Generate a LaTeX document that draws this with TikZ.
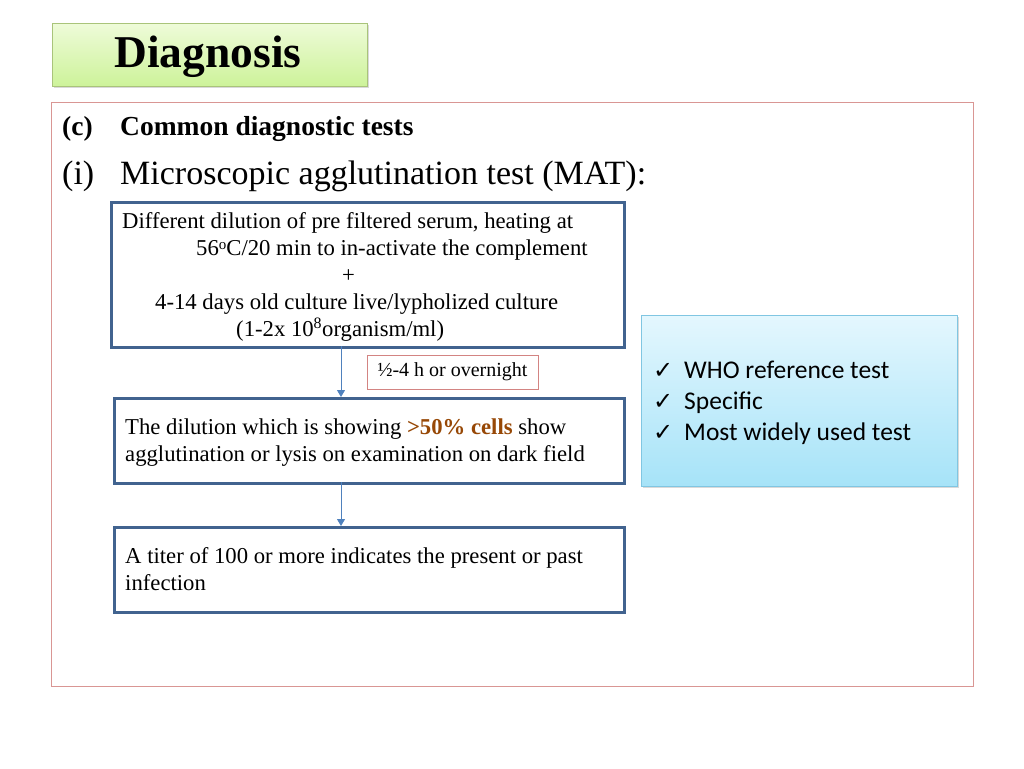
\documentclass[tikz,border=0pt]{standalone}
\usepackage{fontspec}
\setmainfont{Liberation Serif}
\newfontfamily\calib{Carlito}
\newfontfamily\djv{DejaVu Sans}
\usetikzlibrary{arrows.meta,shadows}
\definecolor{boxblue}{HTML}{41638F}
\definecolor{arrowblue}{HTML}{4F81BD}
\definecolor{framered}{HTML}{D99694}
\definecolor{labred}{HTML}{C0504D}
\definecolor{brownhl}{HTML}{974806}
\definecolor{greentop}{HTML}{EEFBD9}
\definecolor{greenbot}{HTML}{CDF39A}
\definecolor{greenedge}{HTML}{A9C47A}
\definecolor{cyantop}{HTML}{E4F7FE}
\definecolor{cyanbot}{HTML}{A6E3F8}
\definecolor{cyanedge}{HTML}{80C6E2}
\tikzset{
  flowbox/.style={draw=boxblue, line width=2.6pt},
  txt/.style={anchor=base west, inner sep=0pt, font=\fontsize{22.7}{26}\selectfont},
  flowarrow/.style={draw=arrowblue, line width=1pt, -{Triangle[length=7pt,width=8pt]}},
  chk/.style={anchor=base west, inner sep=0pt, font=\calib\fontsize{25.5}{28}\selectfont},
  chkmark/.style={anchor=base west, inner sep=0pt, font=\djv\fontsize{24}{26}\selectfont}
}
\begin{document}
\begin{tikzpicture}[x=1pt,y=-1pt]
\useasboundingbox (0,0) rectangle (1024,768);
% title
\node[draw=greenedge, line width=0.8pt, top color=greentop, bottom color=greenbot,
  drop shadow={shadow xshift=2pt, shadow yshift=-2pt, opacity=0.3},
  minimum width=315pt, minimum height=63pt, inner sep=0pt, anchor=north west]
  (title) at (52,23) {};
\node[font=\bfseries\fontsize{45.5}{50}\selectfont, inner sep=0pt] (titletxt) at (208,57) {Diagnosis};
% outer frame
\node[draw=framered, line width=0.8pt, minimum width=922pt, minimum height=584pt,
  inner sep=0pt, anchor=north west] (frame) at (51,102) {};
% headings
\node[anchor=base west, inner sep=0pt, font=\bfseries\fontsize{27.5}{30}\selectfont] (c) at (62,135) {(c)};
\node[anchor=base west, inner sep=0pt, font=\bfseries\fontsize{27.5}{30}\selectfont] (cmn) at (120,135) {Common diagnostic tests};
\node[anchor=base west, inner sep=0pt, font=\fontsize{34}{38}\selectfont] (i) at (62,184) {(i)};
\node[anchor=base west, inner sep=0pt, font=\fontsize{34}{38}\selectfont] (mat) at (120,184) {Microscopic agglutination test (MAT):};
% box 1
\node[flowbox, minimum width=513pt, minimum height=145pt, inner sep=0pt, anchor=north west] (b1) at (110,201) {};
\node[txt] (l1) at (122,228) {Different dilution of pre filtered serum, heating at};
\node[txt] (l2) at (196,255) {56{\fontsize{15}{16}\selectfont\raisebox{6pt}{o}}C/20 min to in-activate the complement};
\node[txt] (l3) at (342,282) {+};
\node[txt] (l4) at (155,309) {4-14 days old culture live/lypholized culture};
\node[txt] (l5) at (236,336) {(1-2x 10\textsuperscript{8}organism/ml)};
% label
\node[draw=labred!70, line width=0.8pt, minimum width=171pt, minimum height=34pt,
  inner sep=0pt, font=\fontsize{20}{22}\selectfont] (lab) at (452.5,372) {½-4 h or overnight};
% box 2
\node[flowbox, minimum width=510pt, minimum height=85pt, inner sep=0pt, anchor=north west] (b2) at (113,397) {};
\node[txt] (m1) at (125,434) {The dilution which is showing \textcolor{brownhl}{\textbf{>50\% cells}} show};
\node[txt] (m2) at (125,461) {agglutination or lysis on examination on dark field};
% box 3
\node[flowbox, minimum width=510pt, minimum height=85pt, inner sep=0pt, anchor=north west] (b3) at (113,526) {};
\node[txt] (n1) at (125,563) {A titer of 100 or more indicates the present or past};
\node[txt] (n2) at (125,590) {infection};
% arrows
\coordinate (a1s) at (341,346);
\coordinate (a1e) at (341,397);
\coordinate (a2s) at (341,482);
\coordinate (a2e) at (341,526);
\draw[flowarrow] (a1s) -- (a1e);
\draw[flowarrow] (a2s) -- (a2e);
% blue box
\node[draw=cyanedge, line width=0.8pt, top color=cyantop, bottom color=cyanbot,
  drop shadow={shadow xshift=2pt, shadow yshift=-2pt, opacity=0.3},
  minimum width=316pt, minimum height=171pt, inner sep=0pt, anchor=north west]
  (who) at (641,315) {};
\node[chkmark] (c1) at (653,378) {✓};
\node[chk] (t1) at (684,378) {WHO reference test};
\node[chkmark] (c2) at (653,409) {✓};
\node[chk] (t2) at (684,409) {Specific};
\node[chkmark] (c3) at (653,440) {✓};
\node[chk] (t3) at (684,440) {Most widely used test};
\end{tikzpicture}
\end{document}
